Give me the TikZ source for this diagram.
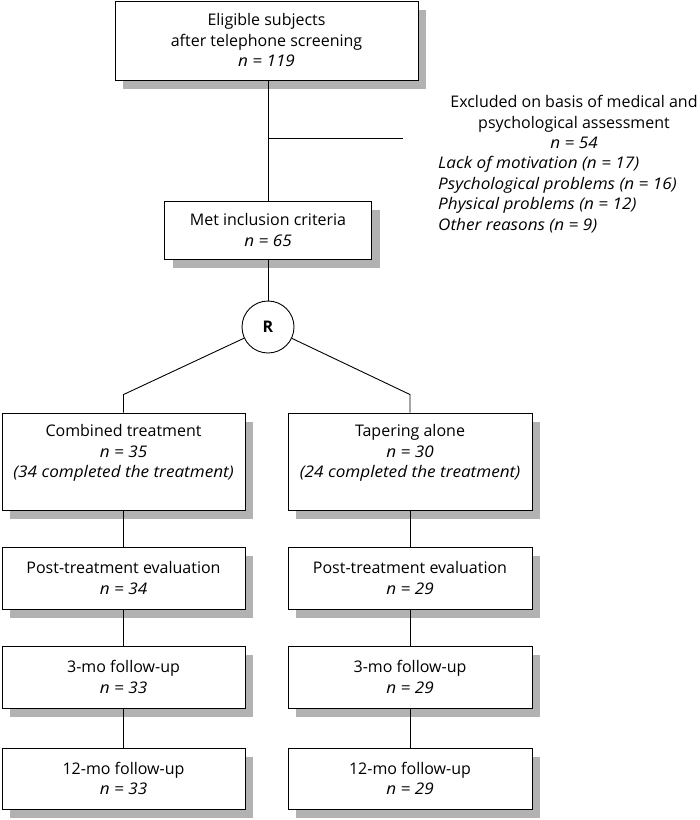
\documentclass[tikz,border=0pt]{standalone}
\usepackage{fontspec}
\setmainfont{Open Sans}[ItalicFeatures={FakeStretch=1.07}]
\usetikzlibrary{positioning,shadows}
\tikzset{
  flowbox/.style={draw, fill=white, line width=0.9pt, align=center, inner sep=2pt,
    drop shadow={shadow xshift=8bp, shadow yshift=-9bp, fill=black!30, opacity=1}},
  colbox/.style={flowbox, minimum width=243bp, minimum height=62bp},
  rndnode/.style={draw, circle, fill=white, line width=0.9pt, minimum size=52bp, inner sep=0pt, font=\fontsize{16bp}{18bp}\selectfont\bfseries},
  notetext/.style={inner sep=0pt},
  link/.style={line width=0.9pt}
}

\begin{document}
\begin{tikzpicture}[x=1bp, y=-1bp, every node/.style={font=\fontsize{16bp}{20.5bp}\selectfont}]
  \useasboundingbox (0,0) rectangle (700,820);
  % top of the chart
  \node[flowbox, minimum width=303bp, minimum height=79bp] (elig) at (266.5,40.5) {Eligible subjects\\after telephone screening\\\textit{n = 119}};
  \node[flowbox, minimum width=207bp, minimum height=58bp] (met) at (268,230) {Met inclusion criteria\\\textit{n = 65}};
  \coordinate (exclend) at (403,138);
  \node[notetext, align=center] (exclhead) at (574,122) {Excluded on basis of medical and\\psychological assessment\\\textit{n = 54}};
  \node[notetext, align=left, anchor=west] (excllist) at (438,194.5) {\textit{Lack of motivation (n = 17)}\\\textit{Psychological problems (n = 16)}\\\textit{Physical problems (n = 12)}\\\textit{Other reasons (n = 9)}};
  \node[rndnode] (rnd) at (268,327) {R};
  % two arms
  \node[flowbox, minimum width=243bp, minimum height=97bp] (comb) at (123.5,461.5) {Combined treatment\\\textit{n = 35}\\\textit{(34 completed the treatment)}\\\mbox{}};
  \node[flowbox, minimum width=244bp, minimum height=97bp] (taper) at (410,461.5) {Tapering alone\\\textit{n = 30}\\\textit{(24 completed the treatment)}\\\mbox{}};
  \node[colbox] (postc) at (123.5,578) {Post-treatment evaluation\\\textit{n = 34}};
  \node[colbox, minimum width=244bp] (postt) at (410,578) {Post-treatment evaluation\\\textit{n = 29}};
  \node[colbox] (fu3c) at (123.5,677) {3-mo follow-up\\\textit{n = 33}};
  \node[colbox, minimum width=244bp] (fu3t) at (410,677) {3-mo follow-up\\\textit{n = 29}};
  \node[colbox, minimum height=61bp] (fu12c) at (123.5,778.5) {12-mo follow-up\\\textit{n = 33}};
  \node[colbox, minimum width=244bp, minimum height=61bp] (fu12t) at (410,778.5) {12-mo follow-up\\\textit{n = 29}};

  \draw[link] (met.north |- elig.south) -- (met.north);
  \draw[link] (met.north |- exclend) -- (exclend);
  \draw[link] (met) -- (rnd);
  \draw[link] (rnd) -- ([yshift=18bp]comb.north) -- (comb.north);
  \draw[link] (rnd) -- ([yshift=18bp]taper.north) -- (taper.north);
  \draw[link] (comb) -- (postc);
  \draw[link] (postc) -- (fu3c);
  \draw[link] (fu3c) -- (fu12c);
  \draw[link] (taper) -- (postt);
  \draw[link] (postt) -- (fu3t);
  \draw[link] (fu3t) -- (fu12t);
\end{tikzpicture}
\end{document}
